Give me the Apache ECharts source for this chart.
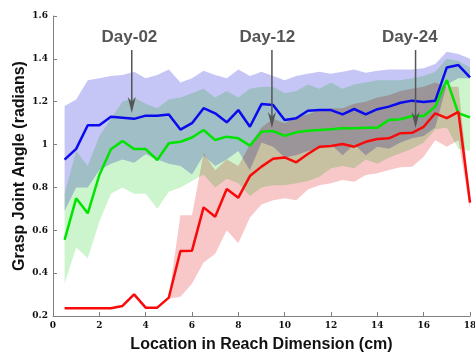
<!DOCTYPE html>
<html>
<head>
<meta charset="utf-8">
<script src="https://cdn.jsdelivr.net/npm/echarts@6/dist/echarts.min.js"></script>
<style>
html,body{margin:0;padding:0;background:#fff}
#c{width:475px;height:356px;isolation:isolate;background:#fff}
#c canvas[data-zr-dom-id="zr_1"],#c canvas[data-zr-dom-id="zr_2"],#c canvas[data-zr-dom-id="zr_3"]{mix-blend-mode:multiply}
</style>
</head>
<body>
<div id="c"></div>
<script>
var X = [0.5,1,1.5,2,2.5,3,3.5,4,4.5,5,5.5,6,6.5,7,7.5,8,8.5,9,9.5,10,10.5,11,11.5,12,12.5,13,13.5,14,14.5,15,15.5,16,16.5,17,17.5,18];

var blueMean  = [0.93,0.98,1.09,1.09,1.13,1.125,1.12,1.135,1.135,1.14,1.07,1.10, 1.17,1.146,1.104,1.161,1.083,1.189,1.185,1.115,1.123,1.158,1.161, 1.161,1.141,1.166,1.141,1.165,1.177,1.195,1.205,1.199,1.205,1.36,1.371,1.314];
var blueUpper = [1.18,1.21,1.30,1.31,1.32,1.325,1.34,1.31,1.325,1.35,1.29,1.31, 1.345,1.325,1.31,1.35,1.32,1.34,1.32,1.30,1.32,1.33,1.34, 1.33,1.34,1.35,1.335,1.345,1.35,1.35,1.35,1.356,1.376,1.433,1.423,1.40];
var blueLower = [0.69,0.80,0.80,0.88,0.91,0.93,0.915,0.955,0.93,0.91,0.90,0.86, 0.95,0.90,0.93,0.97,0.88,1.01,0.99,0.94,0.95,0.97,0.98, 1.00,0.95,1.00,0.95,0.99,0.98,1.01,1.03,1.04,1.08,1.28,1.31,1.31];

var greenMean  = [0.555,0.749,0.679,0.858,0.978,1.017,0.979,0.979,0.928,1.006,1.013,1.033, 1.068,1.021,1.037,1.029,0.995,1.06,1.063,1.041,1.057,1.065,1.068, 1.071,1.076,1.076,1.079,1.079,1.115,1.118,1.133,1.133,1.177,1.301,1.146,1.127];
var greenUpper = [0.77,0.97,0.90,1.04,1.12,1.20,1.22,1.19,1.17,1.21,1.22,1.24, 1.26,1.22,1.25,1.22,1.26,1.27,1.27,1.24,1.25,1.28,1.26, 1.29,1.26,1.28,1.29,1.30,1.30,1.30,1.31,1.32,1.34,1.40,1.39,1.36];
var greenLower = [0.35,0.52,0.47,0.64,0.77,0.80,0.77,0.77,0.70,0.78,0.80,0.83, 0.86,0.80,0.84,0.82,0.76,0.80,0.81,0.81,0.82,0.83,0.85, 0.89,0.90,0.89,0.93,0.91,0.94,0.96,0.98,1.01,1.07,1.08,0.98,0.97];

var redMean  = [0.236,0.236,0.236,0.236,0.236,0.247,0.301,0.239,0.239,0.286,0.503,0.505, 0.707,0.663,0.793,0.752,0.853,0.897,0.934,0.94,0.917,0.956,0.99, 0.993,1.003,0.99,1.013,1.026,1.029,1.053,1.055,1.083,1.146,1.123,1.153,0.729];
var redUpper = [0.236,0.236,0.236,0.236,0.236,0.247,0.301,0.239,0.239,0.29,0.67,0.67, 0.96,0.88,0.93,0.90,1.00,1.08,1.12,1.10,1.13,1.14,1.16, 1.17,1.17,1.19,1.20,1.22,1.23,1.25,1.26,1.27,1.29,1.27,1.27,0.76];
var redLower = [0.236,0.236,0.236,0.236,0.236,0.247,0.301,0.239,0.239,0.28,0.29,0.35, 0.45,0.49,0.60,0.54,0.66,0.72,0.74,0.75,0.74,0.79,0.81, 0.82,0.835,0.827,0.858,0.866,0.881,0.894,0.897,0.943,1.02,0.99,1.02,0.70];

var dayLabels = ['Day-02','Day-12','Day-24'];
var arrowX    = [3.40, 9.45, 15.65];
var arrowTipY = [1.147, 1.077, 1.077];
var arrowTopY = 1.441;
var labelY    = 1.50;
var labelX    = [3.30, 9.25, 15.4];

var chart = echarts.init(document.getElementById('c'), null, {renderer: 'canvas'});

function band(lower, upper, color, zl) {
  return {
    type: 'custom', zlevel: zl, z: 1, silent: true, coordinateSystem: 'cartesian2d',
    data: X.map(function (x, i) { return [x, lower[i], upper[i]]; }),
    encode: {x: 0, y: [1, 2]},
    renderItem: function (params, api) {
      if (params.dataIndex !== 0) return null;
      var pts = [];
      for (var i = 0; i < X.length; i++) pts.push(api.coord([X[i], upper[i]]));
      for (var j = X.length - 1; j >= 0; j--) pts.push(api.coord([X[j], lower[j]]));
      return {type: 'polygon', shape: {points: pts}, style: {fill: color}};
    }
  };
}
function line(mean, color) {
  return {
    type: 'line', zlevel: 4, z: 3, symbol: 'none', silent: true,
    data: X.map(function (x, i) { return [x, mean[i]]; }),
    lineStyle: {color: color, width: 2.5}
  };
}

chart.setOption({
  animation: false,
  backgroundColor: '#ffffff',
  grid: {left: 53, right: 5, top: 16, bottom: 40, containLabel: false, outerBoundsMode: 'none'},
  xAxis: {
    type: 'value', min: 0, max: 18, interval: 2,
    name: 'Location in Reach Dimension (cm)', nameLocation: 'middle', nameGap: 21, nameMoveOverlap: false,
    nameTextStyle: {fontFamily: 'Liberation Sans', fontWeight: 'bold', fontSize: 16, color: '#111'},
    axisLine: {lineStyle: {color: '#808080', width: 1}},
    axisTick: {inside: true, length: 4, lineStyle: {color: '#808080'}},
    axisLabel: {fontFamily: 'DejaVu Serif', fontWeight: 'bold', fontSize: 9, color: '#111', margin: 5, hideOverlap: false},
    splitLine: {show: false}
  },
  yAxis: {
    type: 'value', min: 0.2, max: 1.6, interval: 0.2,
    name: 'Grasp Joint Angle (radians)', nameLocation: 'middle', nameGap: 25, nameRotate: 90, nameMoveOverlap: false,
    nameTextStyle: {fontFamily: 'Liberation Sans', fontWeight: 'bold', fontSize: 16, color: '#111'},
    axisLine: {show: true, lineStyle: {color: '#808080', width: 1}},
    axisTick: {show: true, inside: true, length: 4, lineStyle: {color: '#808080'}},
    axisLabel: {fontFamily: 'DejaVu Serif', fontWeight: 'bold', fontSize: 9, color: '#111', margin: 5},
    splitLine: {show: false}
  },
  series: [
    band(blueLower, blueUpper, '#c6c6f6', 1),
    band(greenLower, greenUpper, '#cdf5cd', 2),
    band(redLower, redUpper, '#f8c8c8', 3),
    line(blueMean, '#0a0af0'),
    line(greenMean, '#00e400'),
    line(redMean, '#f80a0a')
  ]
});

var g = [];
for (var k = 0; k < dayLabels.length; k++) {
  var pTop = chart.convertToPixel({gridIndex: 0}, [arrowX[k], arrowTopY]);
  var pTip = chart.convertToPixel({gridIndex: 0}, [arrowX[k], arrowTipY[k]]);
  var pLab = chart.convertToPixel({gridIndex: 0}, [labelX[k], labelY]);
  g.push({type: 'line', zlevel: 4, z: 10, shape: {x1: pTop[0], y1: pTop[1], x2: pTip[0], y2: pTip[1] - 8},
          style: {stroke: '#555', lineWidth: 1.5}});
  g.push({type: 'polygon', zlevel: 4, z: 10, shape: {points: [[pTip[0], pTip[1]], [pTip[0] - 4, pTip[1] - 16], [pTip[0], pTip[1] - 11], [pTip[0] + 4, pTip[1] - 16]]},
          style: {fill: '#555'}});
  g.push({type: 'text', zlevel: 4, z: 10, x: pLab[0], y: pLab[1],
          style: {text: dayLabels[k], font: 'bold 17px "Liberation Sans"', fill: '#555',
                  align: 'center', verticalAlign: 'middle'}});
}
chart.setOption({graphic: g});
</script>
</body>
</html>
